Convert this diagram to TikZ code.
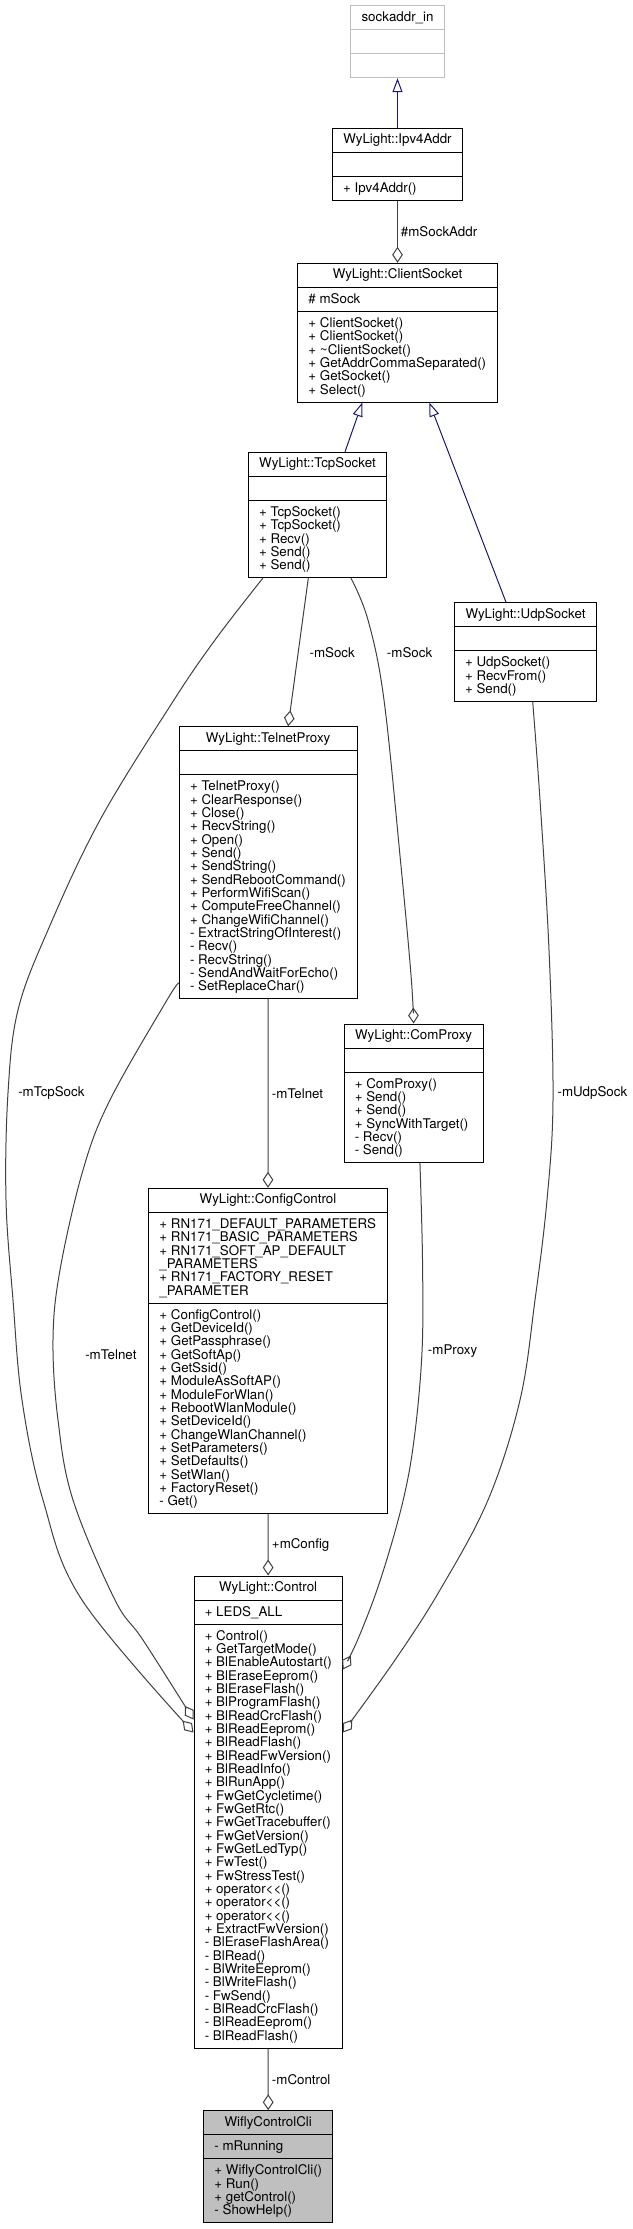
\documentclass[tikz,border=0pt]{standalone}
\usepackage{fontspec}
\setmainfont{TeX Gyre Heros}
\usetikzlibrary{fit,calc,arrows.meta}
\definecolor{navy}{HTML}{191970}
\definecolor{edgegray}{HTML}{404040}
\definecolor{grey75}{HTML}{BFBFBF}
\newcommand{\tightlines}{\lineskiplimit=-20pt\relax}
\newcommand{\umlclass}[9][]{%
  \node[clsbox,#1,fit={(#3,#5)(#4,#8)}] (#2) {};
  \draw[clsline] (#3,#6) -- (#4,#6) (#3,#7) -- (#4,#7);
  \node[ttl] (#2-t) at ({(#3+#4)/2},{#5+15.5}) {#9};
}
\newcommand{\umlmembers}[4]{%
  \node[mem] (#1) at ({#2+10.5},{#3+5.33}) {\rule{0pt}{8pt}#4};
}
\begin{document}
\begin{tikzpicture}[x=0.75pt,y=-0.75pt,
  clsbox/.style={draw=black,line width=0.75pt,fill=white,inner sep=0pt},
  clsline/.style={draw=black,line width=0.75pt},
  ttl/.style={anchor=base,inner sep=0pt,font={\fontsize{10}{10}\selectfont}},
  mem/.style={anchor=north west,inner sep=0pt,align=left,font={\fontsize{10}{10}\selectfont\tightlines}},
  lbl/.style={anchor=west,inner sep=0pt,font={\fontsize{10}{10}\selectfont}},
  inh/.style={draw=navy,line width=0.75pt,-{Triangle[open,length=10.5pt,width=7.5pt]}},
  agg/.style={draw=edgegray,line width=0.75pt,-{Diamond[open,length=12pt,width=8pt]}}]
\useasboundingbox (0,0) rectangle (632,2229);

% ---------- classes ----------
\begin{scope}[clsbox/.append style={draw=grey75},clsline/.append style={draw=grey75}]
\umlclass{sock}{350.7}{444.3}{5.7}{29.7}{53.7}{77.7}{sockaddr\_in}
\end{scope}

\umlclass{ipv}{332.3}{462.7}{128.3}{152.3}{176.3}{200.3}{WyLight::Ipv4Addr}
\umlmembers{ipv-m}{332.3}{176.3}{+ Ipv4Addr()}

\umlclass{cs}{297.7}{497.3}{263.3}{287.3}{311.3}{402}{WyLight::ClientSocket}
\umlmembers{cs-a}{297.7}{287.3}{\# mSock}
\umlmembers{cs-m}{297.7}{311.3}{+ ClientSocket()\\+ ClientSocket()\\+ \textasciitilde ClientSocket()\\+ GetAddrCommaSeparated()\\+ GetSocket()\\+ Select()}

\umlclass{tcp}{248.3}{386.7}{452.3}{476.3}{500.3}{577.7}{WyLight::TcpSocket}
\umlmembers{tcp-m}{248.3}{500.3}{+ TcpSocket()\\+ TcpSocket()\\+ Recv()\\+ Send()\\+ Send()}

\umlclass{udp}{454.3}{596.7}{602.7}{626.7}{650.7}{701.3}{WyLight::UdpSocket}
\umlmembers{udp-m}{454.3}{650.7}{+ UdpSocket()\\+ RecvFrom()\\+ Send()}

\umlclass{tel}{179.3}{357}{726.7}{750.7}{774.7}{998.7}{WyLight::TelnetProxy}
\umlmembers{tel-m}{179.3}{774.7}{+ TelnetProxy()\\+ ClearResponse()\\+ Close()\\+ RecvString()\\+ Open()\\+ Send()\\+ SendString()\\+ SendRebootCommand()\\+ PerformWifiScan()\\+ ComputeFreeChannel()\\+ ChangeWifiChannel()\\- ExtractStringOfInterest()\\- Recv()\\- RecvString()\\- SendAndWaitForEcho()\\- SetReplaceChar()}

\umlclass{com}{344}{483.3}{1024}{1048}{1072}{1162.7}{WyLight::ComProxy}
\umlmembers{com-m}{344}{1072}{+ ComProxy()\\+ Send()\\+ Send()\\+ SyncWithTarget()\\- Recv()\\- Send()}

\umlclass{cfg}{148.7}{387.3}{1188.3}{1212.3}{1303}{1513.7}{WyLight::ConfigControl}
\umlmembers{cfg-a}{148.7}{1212.3}{+ RN171\_DEFAULT\_PARAMETERS\\+ RN171\_BASIC\_PARAMETERS\\+ RN171\_SOFT\_AP\_DEFAULT\\\_PARAMETERS\\+ RN171\_FACTORY\_RESET\\\_PARAMETER}
\umlmembers{cfg-m}{148.7}{1303}{+ ConfigControl()\\+ GetDeviceId()\\+ GetPassphrase()\\+ GetSoftAp()\\+ GetSsid()\\+ ModuleAsSoftAP()\\+ ModuleForWlan()\\+ RebootWlanModule()\\+ SetDeviceId()\\+ ChangeWlanChannel()\\+ SetParameters()\\+ SetDefaults()\\+ SetWlan()\\+ FactoryReset()\\- Get()}

\umlclass{ctrl}{194}{342.3}{1576}{1600}{1624}{2048}{WyLight::Control}
\umlmembers{ctrl-a}{194}{1600}{+ LEDS\_ALL}
\umlmembers{ctrl-m}{194}{1624}{+ Control()\\+ GetTargetMode()\\+ BlEnableAutostart()\\+ BlEraseEeprom()\\+ BlEraseFlash()\\+ BlProgramFlash()\\+ BlReadCrcFlash()\\+ BlReadEeprom()\\+ BlReadFlash()\\+ BlReadFwVersion()\\+ BlReadInfo()\\+ BlRunApp()\\+ FwGetCycletime()\\+ FwGetRtc()\\+ FwGetTracebuffer()\\+ FwGetVersion()\\+ FwGetLedTyp()\\+ FwTest()\\+ FwStressTest()\\+ operator<\kern0pt<()\\+ operator<\kern0pt<()\\+ operator<\kern0pt<()\\+ ExtractFwVersion()\\- BlEraseFlashArea()\\- BlRead()\\- BlWriteEeprom()\\- BlWriteFlash()\\- FwSend()\\- BlReadCrcFlash()\\- BlReadEeprom()\\- BlReadFlash()}

\umlclass[fill=grey75]{cli}{203.7}{332.7}{2110.7}{2134.7}{2158.7}{2222.7}{WiflyControlCli}
\umlmembers{cli-a}{203.7}{2134.7}{- mRunning}
\umlmembers{cli-m}{203.7}{2158.7}{+ WiflyControlCli()\\+ Run()\\+ getControl()\\- ShowHelp()}

% ---------- connector end points ----------
\coordinate (tcpN) at ($(tcp.north)+(27.5,0)$);
\coordinate (udpN) at ($(udp.north)+(-19.5,0)$);
\coordinate (csS1) at ($(cs.south)+(-35.2,0)$);
\coordinate (csS2) at ($(cs.south)+(31.8,0)$);
\coordinate (tcpS1) at ($(tcp.south west)+(15,0)$);
\coordinate (tcpS2) at ($(tcp.south)+(-9.2,0)$);
\coordinate (tcpS3) at ($(tcp.south)+(33.5,0)$);
\coordinate (telN) at ($(tel.north)+(20,0)$);
\coordinate (telW) at ($(tel.south west)+(0,-16)$);
\coordinate (udpS) at ($(udp.south)+(7.2,0)$);
\coordinate (comS) at ($(com.south)+(6.3,0)$);
\coordinate (ctrlL1) at ($(ctrl.north west)+(0,144)$);
\coordinate (ctrlL2) at ($(ctrl.north west)+(0,157)$);
\coordinate (ctrlR1) at ($(ctrl.north east)+(0,94)$);
\coordinate (ctrlR2) at ($(ctrl.north east)+(0,157)$);

% ---------- inheritance ----------
\draw[inh] (ipv.north) -- (sock.south);
\draw[inh] (tcpN) -- (csS1);
\draw[inh] (udpN) -- (csS2);

% ---------- aggregations ----------
\draw[agg] (ipv.south) -- (cs.north);
\draw[agg] (tcpS2) -- (telN);
\draw[agg] plot[smooth,tension=0.6] coordinates {(tcpS3) (368,620) (384,700) (401,866) (411,975) (com.north)};
\draw[agg] plot[smooth,tension=0.6] coordinates {(tcpS1) (215,640) (172,703) (100,820) (48,930) (18,1010) (8,1093) (6,1200) (13,1300) (22,1400) (43,1500) (82,1600) (ctrlL2)};
\draw[agg] plot[smooth,tension=0.6] coordinates {(telW) (167,1000) (110,1100) (83,1170) (60,1270) (53,1340) (58,1420) (73,1500) (115,1600) (143,1640) (ctrlL1)};
\draw[agg] plot[smooth,tension=0.6] coordinates {(udpS) (540,800) (549,950) (553,1100) (547,1200) (535,1300) (520,1400) (488,1500) (440,1590) (395,1660) (ctrlR2)};
\draw[agg] plot[smooth,tension=0.6] coordinates {(comS) (422.5,1260) (422,1352) (414,1440) (402,1505) (380,1581) (358,1639) (ctrlR1)};
\draw[agg] (tel.south) -- (cfg.north);
\draw[agg] (cfg.south) -- (ctrl.north);
\draw[agg] (ctrl.south) -- (cli.north);

% ---------- labels ----------
\node[lbl] (l-sockaddr) at (400.7,231.7) {\#mSockAddr};
\node[lbl] (l-sock1) at (309.3,652.3) {-mSock};
\node[lbl] (l-sock2) at (386.7,652.3) {-mSock};
\node[lbl] (l-tcpsock) at (18,1093) {-mTcpSock};
\node[lbl] (l-telnet1) at (271.7,1093.3) {-mTelnet};
\node[lbl] (l-udpsock) at (557.3,1093) {-mUdpSock};
\node[lbl] (l-telnet2) at (85,1355) {-mTelnet};
\node[lbl] (l-proxy) at (427.7,1351) {-mProxy};
\node[lbl] (l-config) at (271.7,1545) {+mConfig};
\node[lbl] (l-control) at (271.7,2079.3) {-mControl};
\end{tikzpicture}
\end{document}
